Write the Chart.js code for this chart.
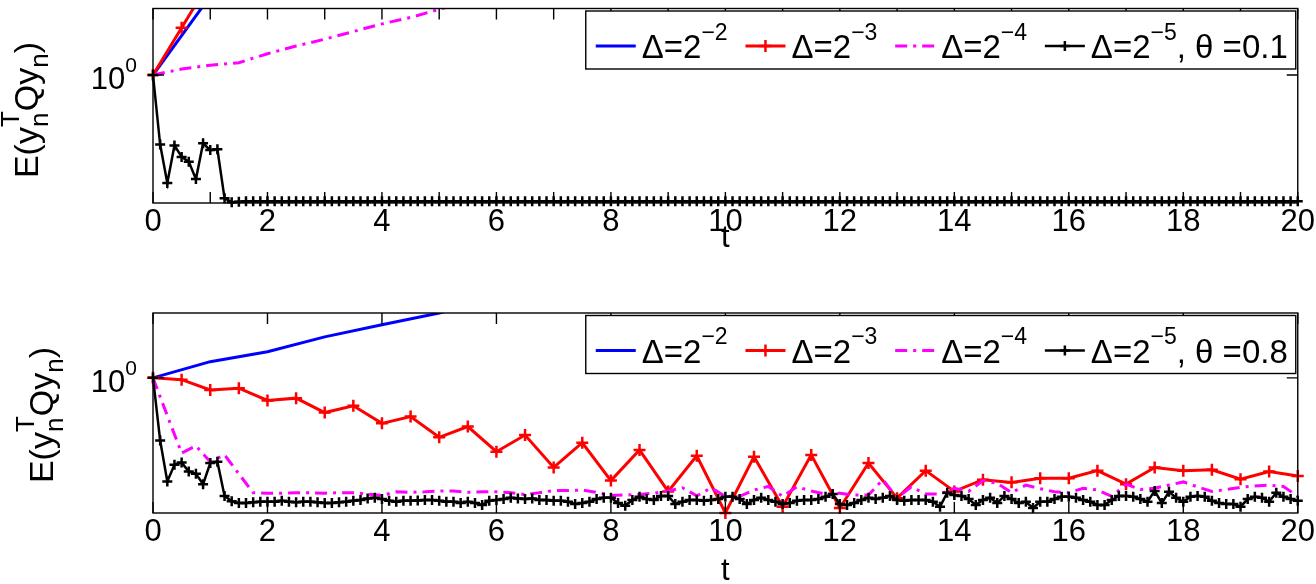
<!DOCTYPE html>
<html>
<head>
<meta charset="utf-8">
<script src="https://cdn.jsdelivr.net/npm/chart.js@4.4.1/dist/chart.umd.min.js"></script>
<style>
  html, body { margin: 0; padding: 0; background: #fff; }
  #wrap { position: relative; width: 1316px; height: 584px; }
  .panel { position: absolute; left: 0; width: 1316px; }
  #p1 { top: 0; height: 300px; }
  #p2 { top: 300px; height: 284px; }
</style>
</head>
<body>
<div id="wrap">
  <div class="panel" id="p1"><canvas id="c1"></canvas></div>
  <div class="panel" id="p2"><canvas id="c2"></canvas></div>
</div>
<script>
// values are log10 of E(y_n^T Q y_n)
const legendExp = ['−2', '−3', '−4', '−5'];
const thetas = ['0.1', '0.8'];
const colors = ['#0000ff', '#ff0000', '#ff00ff', '#000000'];
const xTickStep = [1, 2];

// time step of every series (top / bottom panel)
const dtTop = [1, 0.5, 0.5, 0.125];
const dtBot = [1, 0.5, 0.25, 0.125];

// theta = 0.1
const top1 = [0, 0.185, 0.370];
const top2 = [0, 0.111, 0.221, 0.330];
const top3 = [0, 0.014, 0.023, 0.029, 0.050, 0.068, 0.084, 0.102, 0.120, 0.135, 0.154, 0.172, 0.190];
const top4 = [0, -0.163, -0.253, -0.165, -0.192, -0.203, -0.244, -0.160, -0.176, -0.174, -0.289, -0.298,
  -0.297, -0.296, -0.296, -0.296, -0.296, -0.296, -0.296, -0.296, -0.296, -0.296,
  -0.296, -0.296, -0.296, -0.296, -0.296, -0.296, -0.296, -0.296, -0.296, -0.296,
  -0.296, -0.296, -0.296, -0.296, -0.296, -0.296, -0.296, -0.296, -0.296, -0.296,
  -0.296, -0.296, -0.296, -0.296, -0.296, -0.296, -0.296, -0.296, -0.296, -0.296,
  -0.296, -0.296, -0.296, -0.296, -0.296, -0.296, -0.296, -0.296, -0.296, -0.296,
  -0.296, -0.296, -0.296, -0.296, -0.296, -0.296, -0.296, -0.296, -0.296, -0.296,
  -0.296, -0.296, -0.296, -0.296, -0.296, -0.296, -0.296, -0.296, -0.296, -0.296,
  -0.296, -0.296, -0.296, -0.296, -0.296, -0.296, -0.296, -0.296, -0.296, -0.296,
  -0.296, -0.296, -0.296, -0.296, -0.296, -0.296, -0.296, -0.296, -0.296, -0.296,
  -0.296, -0.296, -0.296, -0.296, -0.296, -0.296, -0.296, -0.296, -0.296, -0.296,
  -0.296, -0.296, -0.296, -0.296, -0.296, -0.296, -0.296, -0.296, -0.296, -0.296,
  -0.296, -0.296, -0.296, -0.296, -0.296, -0.296, -0.296, -0.296, -0.296, -0.296,
  -0.296, -0.296, -0.296, -0.296, -0.296, -0.296, -0.296, -0.296, -0.296, -0.296,
  -0.296, -0.296, -0.296, -0.296, -0.296, -0.296, -0.296, -0.296, -0.296, -0.296,
  -0.296, -0.296, -0.296, -0.296, -0.296, -0.296, -0.296, -0.296, -0.296];

// theta = 0.8
const bot1 = [0, 0.036, 0.058, 0.091, 0.118, 0.144, 0.175];
const bot2 = [0, -0.004, -0.027, -0.023, -0.050, -0.045, -0.077, -0.062, -0.101, -0.086,
  -0.132, -0.108, -0.164, -0.127, -0.199, -0.144, -0.228, -0.160, -0.252, -0.173,
  -0.300, -0.175, -0.286, -0.171, -0.289, -0.189, -0.267, -0.206, -0.252, -0.226,
  -0.232, -0.223, -0.223, -0.206, -0.236, -0.199, -0.206, -0.204, -0.225, -0.208,
  -0.218];
const bot3 = [0, -0.084, -0.167, -0.151, -0.186, -0.171, -0.213, -0.255, -0.256, -0.256,
  -0.255, -0.255, -0.256, -0.255, -0.255, -0.258, -0.261, -0.253, -0.254, -0.253,
  -0.251, -0.251, -0.254, -0.253, -0.253, -0.255, -0.259, -0.255, -0.250, -0.250,
  -0.249, -0.254, -0.261, -0.260, -0.259, -0.256, -0.251, -0.244, -0.262, -0.244,
  -0.263, -0.263, -0.249, -0.241, -0.263, -0.242, -0.251, -0.258, -0.256, -0.260,
  -0.260, -0.226, -0.266, -0.242, -0.258, -0.258, -0.245, -0.252, -0.228, -0.234,
  -0.255, -0.238, -0.246, -0.253, -0.255, -0.245, -0.249, -0.263, -0.236, -0.248,
  -0.245, -0.238, -0.231, -0.242, -0.252, -0.248, -0.243, -0.240, -0.238, -0.241,
  -0.263];
const bot4 = [0, -0.139, -0.230, -0.193, -0.188, -0.208, -0.213, -0.236, -0.189, -0.186,
  -0.262, -0.274, -0.278, -0.278, -0.276, -0.275, -0.275, -0.275, -0.273, -0.275,
  -0.276, -0.275, -0.275, -0.276, -0.278, -0.278, -0.276, -0.275, -0.273, -0.271,
  -0.268, -0.266, -0.269, -0.273, -0.275, -0.273, -0.273, -0.272, -0.271, -0.271,
  -0.273, -0.275, -0.275, -0.278, -0.275, -0.278, -0.282, -0.273, -0.271, -0.269,
  -0.266, -0.268, -0.269, -0.268, -0.271, -0.271, -0.273, -0.273, -0.275, -0.280,
  -0.278, -0.275, -0.269, -0.266, -0.266, -0.278, -0.284, -0.271, -0.264, -0.269,
  -0.271, -0.262, -0.262, -0.280, -0.275, -0.271, -0.271, -0.273, -0.271, -0.269,
  -0.264, -0.264, -0.269, -0.280, -0.271, -0.266, -0.271, -0.275, -0.280, -0.278,
  -0.273, -0.271, -0.271, -0.269, -0.264, -0.258, -0.280, -0.282, -0.278, -0.271,
  -0.266, -0.269, -0.266, -0.262, -0.271, -0.273, -0.271, -0.271, -0.271, -0.275,
  -0.286, -0.255, -0.260, -0.262, -0.269, -0.282, -0.271, -0.266, -0.278, -0.262,
  -0.269, -0.278, -0.275, -0.289, -0.275, -0.275, -0.269, -0.264, -0.264, -0.266,
  -0.271, -0.275, -0.282, -0.282, -0.271, -0.262, -0.262, -0.264, -0.269, -0.275,
  -0.251, -0.278, -0.253, -0.266, -0.275, -0.264, -0.262, -0.264, -0.273, -0.278,
  -0.280, -0.280, -0.286, -0.269, -0.264, -0.266, -0.275, -0.255, -0.264, -0.269,
  -0.273];

// axis range in log10 units
const yLogMin = [-0.3, -0.3];
const yLogMax = [0.156, 0.144];

const FONT = '"Liberation Sans", Arial, Helvetica, sans-serif';

// draw (or measure) text with sub/superscripts
function richText(ctx, parts, x, y, big, small, draw) {
  let cx = x;
  for (const p of parts) {
    if (p.sub || p.sup) {
      ctx.font = small + 'px ' + FONT;
      let w = 0;
      if (p.sup) {
        if (draw) ctx.fillText(p.sup, cx, y - big * 0.55);
        w = Math.max(w, ctx.measureText(p.sup).width);
      }
      if (p.sub) {
        if (draw) ctx.fillText(p.sub, cx, y + big * 0.28);
        w = Math.max(w, ctx.measureText(p.sub).width);
      }
      cx += w;
    } else {
      ctx.font = big + 'px ' + FONT;
      if (draw) ctx.fillText(p.t, cx, y);
      cx += ctx.measureText(p.t).width;
    }
  }
  return cx - x;
}

const deco = {
  id: 'deco',
  afterDraw(chart, args, o) {
    const { ctx, chartArea: a, scales: { x, y } } = chart;
    ctx.save();
    ctx.strokeStyle = '#000';
    ctx.fillStyle = '#000';
    ctx.lineWidth = 1.4;

    // axes box and inward ticks
    ctx.strokeRect(a.left, a.top, a.right - a.left, a.bottom - a.top);
    ctx.beginPath();
    x.ticks.forEach(t => {
      const px = x.getPixelForValue(t.value);
      ctx.moveTo(px, a.bottom); ctx.lineTo(px, a.bottom - 11);
      ctx.moveTo(px, a.top); ctx.lineTo(px, a.top + 11);
    });
    y.ticks.forEach(t => {
      const py = y.getPixelForValue(t.value);
      ctx.moveTo(a.left, py); ctx.lineTo(a.left + 11, py);
      ctx.moveTo(a.right, py); ctx.lineTo(a.right - 11, py);
    });
    ctx.stroke();

    // y tick label 10^0
    ctx.textAlign = 'left';
    ctx.textBaseline = 'alphabetic';
    y.ticks.forEach(t => {
      const py = y.getPixelForValue(t.value);
      const parts = [{ t: '10' }, { sup: '0' }];
      const w = richText(ctx, parts, 0, 0, 31, 21, false);
      richText(ctx, parts, a.left - 16 - w, py + 14, 31, 21, true);
    });

    // y title
    ctx.save();
    ctx.translate(o.titleX, o.titleY);
    ctx.rotate(-Math.PI / 2);
    const tparts = [{ t: 'E(y' }, { sub: 'n', sup: 'T' }, { t: 'Qy' }, { sub: 'n' }, { t: ')' }];
    const tw = richText(ctx, tparts, 0, 0, 34, 26, false);
    richText(ctx, tparts, -tw / 2, 0, 34, 26, true);
    ctx.restore();

    // legend, box spans a fixed width at the top right
    const big = 33, small = 23, sample = 40, gapA = 6, padL = 10, padR = 8, boxW = 710;
    const entries = legendExp.map((e, k) => {
      const p = [{ t: 'Δ=2' }, { sup: e }];
      if (k === 3) p.push({ t: ', θ =' + o.theta });
      return p;
    });
    const widths = entries.map(p => richText(ctx, p, 0, 0, big, small, false));
    const used = padL + padR + widths.reduce((s, w) => s + w + sample + gapA, 0);
    const gapB = Math.max(2, (boxW - used) / 3);
    const bx1 = a.right - 2, bx0 = bx1 - boxW, by0 = a.top + 2.5, bh = 58;
    ctx.fillStyle = '#fff';
    ctx.fillRect(bx0, by0, boxW, bh);
    ctx.strokeStyle = '#000';
    ctx.lineWidth = 1.4;
    ctx.strokeRect(bx0, by0, boxW, bh);
    const base = by0 + 47, ly = base - 12;
    let cx = bx0 + padL;
    entries.forEach((p, k) => {
      ctx.save();
      ctx.strokeStyle = colors[k];
      ctx.lineWidth = k === 3 ? 2.5 : 3;
      ctx.setLineDash(k === 2 ? [12, 6, 3, 6] : []);
      ctx.beginPath();
      ctx.moveTo(cx, ly); ctx.lineTo(cx + sample, ly);
      ctx.stroke();
      ctx.setLineDash([]);
      if (k === 1 || k === 3) {
        const r = k === 1 ? 6 : 5, mx = cx + sample / 2;
        ctx.lineWidth = 2.5;
        ctx.beginPath();
        ctx.moveTo(mx - r, ly); ctx.lineTo(mx + r, ly);
        ctx.moveTo(mx, ly - r); ctx.lineTo(mx, ly + r);
        ctx.stroke();
      }
      ctx.restore();
      cx += sample + gapA;
      ctx.fillStyle = '#000';
      cx += richText(ctx, p, cx, base, big, small, true) + gapB;
    });
    ctx.restore();
  }
};

function makeSets(series, dts) {
  return series.map((vals, k) => ({
    data: vals.map((v, i) => ({ x: i * dts[k], y: Math.pow(10, v) })),
    borderColor: colors[k],
    backgroundColor: colors[k],
    borderWidth: k === 3 ? 2.5 : 3,
    borderDash: k === 2 ? [12, 6, 3, 6] : [],
    pointStyle: 'cross',
    pointRadius: k === 1 ? 6 : (k === 3 ? 5 : 0),
    pointBorderWidth: 2.5,
    pointHoverRadius: 0,
    tension: 0,
    order: 3 - k,
    clip: { left: 10, top: 0, right: 10, bottom: 10 }
  }));
}

function makeChart(id, p, series, dts, opt) {
  return new Chart(document.getElementById(id), {
    type: 'line',
    data: { datasets: makeSets(series, dts) },
    options: {
      responsive: true,
      maintainAspectRatio: false,
      animation: false,
      events: [],
      layout: { padding: { left: 0, right: 17, top: opt.padTop, bottom: 0 } },
      plugins: {
        legend: { display: false },
        tooltip: { enabled: false },
        deco: { titleX: opt.titleX, titleY: opt.titleY, theta: thetas[p] }
      },
      scales: {
        x: {
          type: 'linear',
          min: 0, max: 20,
          grid: { display: false, drawTicks: false },
          border: { display: false },
          ticks: {
            stepSize: xTickStep[p],
            autoSkip: false,
            maxRotation: 0,
            color: '#000',
            padding: opt.tickPad,
            font: { family: FONT, size: 31 },
            callback: v => (v % 2 === 0 ? String(v) : '')
          },
          title: {
            display: true, text: 't', color: '#000',
            font: { family: FONT, size: 31, lineHeight: 0.8 },
            padding: { top: 0, bottom: opt.titlePad }
          },
          afterFit: s => { s.height = opt.xHeight; }
        },
        y: {
          type: 'logarithmic',
          min: Math.pow(10, yLogMin[p]),
          max: Math.pow(10, yLogMax[p]),
          grid: { display: false },
          border: { display: false },
          ticks: { display: false },
          afterBuildTicks: s => { s.ticks = [{ value: 1 }]; },
          afterFit: s => { s.width = 153; }
        }
      }
    },
    plugins: [deco]
  });
}

makeChart('c1', 0, [top1, top2, top3, top4], dtTop,
  { padTop: 1, xHeight: 97, tickPad: 1, titlePad: 49, titleX: 38, titleY: 110 });
makeChart('c2', 1, [bot1, bot2, bot3, bot4], dtBot,
  { padTop: 13, xHeight: 71, tickPad: 1, titlePad: 0, titleX: 53, titleY: 415 - 300 });
</script>
</body>
</html>
